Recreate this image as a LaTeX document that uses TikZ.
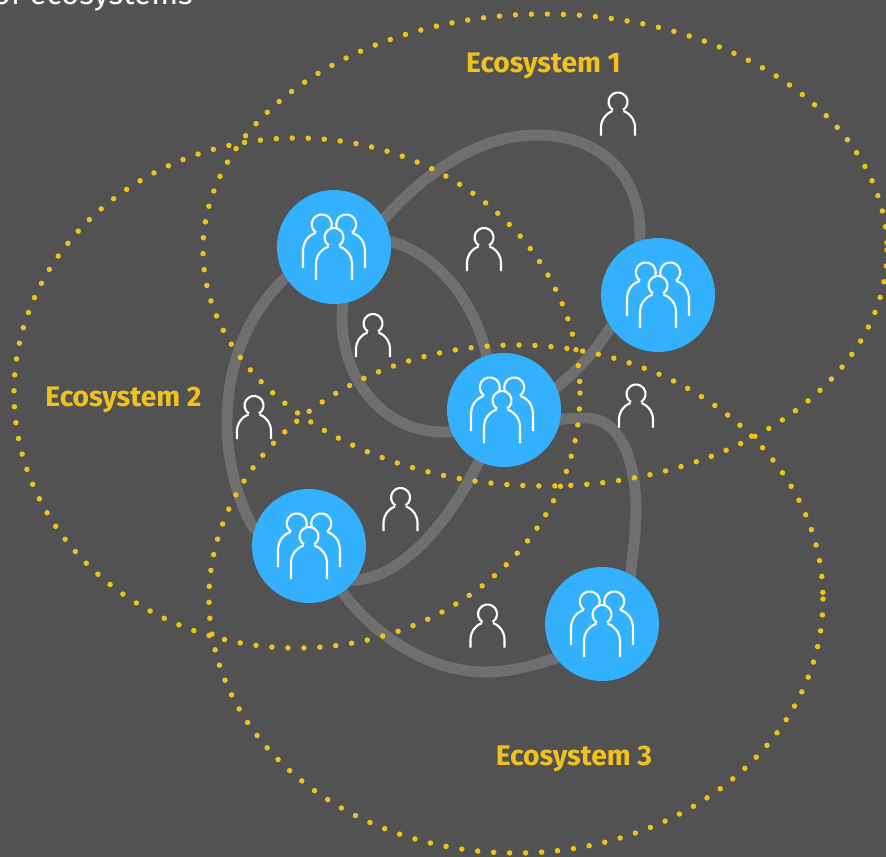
\documentclass[tikz,border=0pt]{standalone}
\usepackage{fontspec}
\setmainfont{Fira Sans}
\pgfdeclarelayer{bglayer}
\pgfdeclarelayer{linklayer}
\pgfdeclarelayer{dotlayer}
\pgfsetlayers{bglayer,linklayer,dotlayer,main}
\definecolor{bgc}{HTML}{525252}
\definecolor{linkc}{HTML}{6F6F6F}
\definecolor{bluec}{HTML}{33B1FF}
\definecolor{goldc}{HTML}{F1C21B}
\tikzset{
 x=0.75pt,y=-0.75pt,
 hub/.style={circle,fill=bluec,draw=none,minimum size=85.5pt,inner sep=0pt},
 link/.style={draw=linkc,line width=8.2pt},
 dotring/.style={draw=goldc,line width=4.1pt,line cap=round,dash pattern=on 0pt off 12pt},
 eco/.style={text=goldc,font=\fontsize{21.2}{24}\selectfont\bfseries,inner sep=0pt},
 iconline/.style={draw=white,line width=1.6pt,fill=none},
 person/.pic={
  \draw[iconline] (-5,8) arc[start angle=122,end angle=418,radius=9.5];
  \draw[iconline] (-17,33.5) -- (-17,26) .. controls (-17,18) and (-13,12) .. (-5.5,9);
  \draw[iconline] (17,33.5) -- (17,26) .. controls (17,18) and (13,12) .. (5.5,9);
 },
 crowd/.pic={
  \draw[iconline] (-18,-14.4) arc[start angle=125,end angle=380,radius=10];
  \draw[iconline] (-31,21) -- (-31,5) .. controls (-31,-4) and (-27,-11) .. (-18.5,-14);
  \begin{scope}[xscale=-1]
  \draw[iconline] (-18,-14.4) arc[start angle=125,end angle=380,radius=10];
  \draw[iconline] (-31,21) -- (-31,5) .. controls (-31,-4) and (-27,-11) .. (-18.5,-14);
  \end{scope}
  \begin{scope}[shift={(0,-9.5)}]
  \draw[iconline] (-5,8) arc[start angle=122,end angle=418,radius=9.5];
  \draw[iconline] (-18,42.5) -- (-18,27) .. controls (-18,18) and (-13,12) .. (-5.5,9);
  \draw[iconline] (18,42.5) -- (18,27) .. controls (18,18) and (13,12) .. (5.5,9);
  \end{scope}
 }
}
\begin{document}
\begin{tikzpicture}
\useasboundingbox (0,0) rectangle (886,857);
\begin{pgfonlayer}{bglayer}
\fill[bgc] (0,0) rectangle (886,857);
\end{pgfonlayer}
\node[hub] (A) at (334,247) {};
\node[hub] (B) at (658,295) {};
\node[hub] (C) at (504,410) {};
\node[hub] (D) at (309,546) {};
\node[hub] (E) at (602,624) {};
\foreach \p in {(334,247),(658,295),(502,410),(309,546),(602,624)}{\pic at \p {crowd};}
\foreach \p in {(618,102),(484,237.5),(373,323.5),(254,405.5),(636,394),(400.5,497.5),(487.5,614)}{\pic at \p {person};}
\begin{pgfonlayer}{linklayer}
\path[link] (A) .. controls (355,235) and (370,233) .. (383,220) .. controls (420,178) and (475,135) .. (537,135) .. controls (600,135) and (640,175) .. (640,233) .. controls (640,285) and (610,345) .. (557,387) .. controls (540,398) and (525,405) .. (C);
\path[link] (A) .. controls (355,237) and (375,237) .. (392,242) .. controls (440,255) and (475,305) .. (486,353) .. controls (490,375) and (497,395) .. (C);
\path[link] (A) .. controls (340,270) and (343,290) .. (343,303) .. controls (335,372) and (380,432) .. (443,432) .. controls (465,432) and (490,425) .. (C);
\path[link] (A) .. controls (315,255) and (300,265) .. (285,278) .. controls (247,315) and (227,365) .. (227,423) .. controls (227,465) and (240,505) .. (253,527) .. controls (265,540) and (290,545) .. (D);
\path[link] (C) .. controls (495,430) and (488,445) .. (478,463) .. controls (450,520) and (405,575) .. (357,580) .. controls (340,582) and (325,565) .. (D);
\path[link] (D) .. controls (370,630) and (425,672) .. (485,672) .. controls (530,672) and (570,650) .. (E);
\path[link] (C) .. controls (540,420) and (570,418) .. (585,418) .. controls (625,418) and (636,470) .. (636,510) .. controls (636,550) and (625,590) .. (E);
\end{pgfonlayer}
\begin{pgfonlayer}{dotlayer}
\path[dotring] (545,250) ellipse [x radius=342,y radius=236];
\path[dotring] (297,393) ellipse [x radius=283,y radius=255];
\path[dotring] (516,599) ellipse [x radius=307,y radius=254];
\end{pgfonlayer}
\node[eco,anchor=center] (L1) at (543.5,66) {Ecosystem 1};
\node[eco,anchor=center] (L2) at (123.5,400) {Ecosystem 2};
\node[eco,anchor=center] (L3) at (574,759) {Ecosystem 3};
\node[text=white,anchor=base east,inner sep=0pt,font=\fontsize{23.5}{26}\selectfont] (T) at (193,4) {of ecosystems};
\end{tikzpicture}
\end{document}
